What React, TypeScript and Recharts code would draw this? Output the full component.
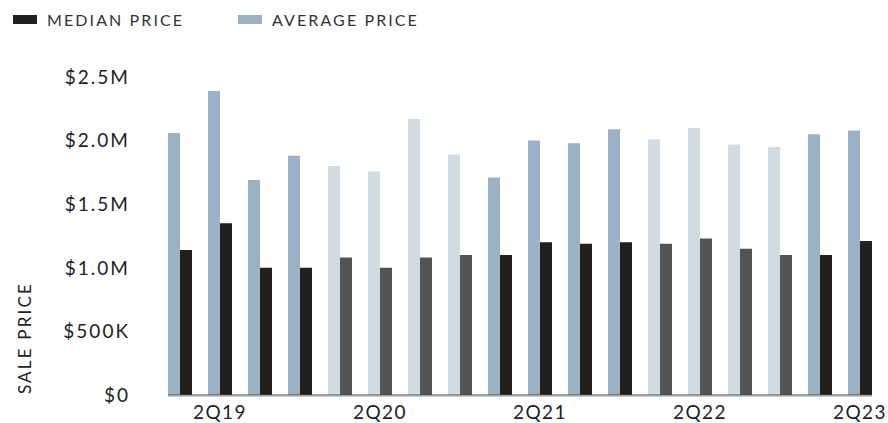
import { BarChart, Bar, XAxis, YAxis, Cell, Label, ReferenceLine } from "recharts";

const quarters = [
  "1Q19", "2Q19", "3Q19", "4Q19",
  "1Q20", "2Q20", "3Q20", "4Q20",
  "1Q21", "2Q21", "3Q21", "4Q21",
  "1Q22", "2Q22", "3Q22", "4Q22",
  "1Q23", "2Q23",
];
const averagePrice = [
  2060000, 2390000, 1690000, 1880000,
  1800000, 1760000, 2170000, 1890000,
  1710000, 2000000, 1980000, 2090000,
  2010000, 2100000, 1970000, 1950000,
  2050000, 2080000,
];
const medianPrice = [
  1140000, 1350000, 1000000, 1000000,
  1080000, 1000000, 1080000, 1100000,
  1100000, 1200000, 1190000, 1200000,
  1190000, 1230000, 1150000, 1100000,
  1100000, 1210000,
];
const labelQuarters = ["2Q19", "2Q20", "2Q21", "2Q22", "2Q23"];
const yTicks = [0, 500000, 1000000, 1500000, 2000000, 2500000];

const AVG_DARK = "#9bb1c4";
const AVG_LIGHT = "#d0dce4";
const MED_DARK = "#231f20";
const MED_GRAY = "#525453";

const data = quarters.map((q, i) => ({
  quarter: q,
  average: averagePrice[i],
  median: medianPrice[i],
}));

// odd years (2019, 2021, 2023) get the darker shades
const isDarkYear = (q: string) => parseInt(q.slice(2), 10) % 2 === 1;

const fmtY = (v: number) => {
  if (v === 0) return "$0";
  if (v < 1000000) return `$${v / 1000}K`;
  return `$${(v / 1000000).toFixed(1)}M`;
};

const font = "Lato, 'Open Sans', sans-serif";

export default function App() {
  return (
    <div style={{ position: "relative", width: 888, height: 423, fontFamily: font }}>
      <style>{`body{margin:0}`}</style>
      <div
        style={{
          position: "absolute",
          top: 10,
          left: 13,
          display: "flex",
          alignItems: "center",
          fontSize: 16,
          letterSpacing: 2.1,
          color: "#333",
        }}
      >
        <span style={{ width: 24, height: 9, background: MED_DARK, display: "inline-block", marginRight: 10 }} />
        <span style={{ marginRight: 56, width: 135, display: "inline-block", whiteSpace: "nowrap" }}>MEDIAN PRICE</span>
        <span style={{ width: 24, height: 9, background: AVG_DARK, display: "inline-block", marginRight: 10 }} />
        <span style={{ whiteSpace: "nowrap" }}>AVERAGE PRICE</span>
      </div>
      <BarChart
        width={888}
        height={423}
        data={data}
        margin={{ top: 77, right: 8, bottom: 0, left: 0 }}
        barGap={0}
        barCategoryGap={16}
      >
        <XAxis
          dataKey="quarter"
          interval={0}
          axisLine={false}
          tickLine={false}
          tickSize={0}
          tickMargin={11}
          height={28}
          tick={{ fill: "#222", fontSize: 19, fontFamily: font, letterSpacing: 1.4 }}
          tickFormatter={(q: string) => (labelQuarters.includes(q) ? q : "")}
        />
        <YAxis
          width={160}
          domain={[0, 2500000]}
          ticks={yTicks}
          tickFormatter={fmtY}
          axisLine={false}
          tickLine={false}
          tickSize={0}
          tickMargin={30}
          tick={{ fill: "#222", fontSize: 19, fontFamily: font, letterSpacing: 2 }}
        >
          <Label
            content={({ viewBox }: any) => {
              const cx = viewBox.x + 24;
              const cy = viewBox.y + viewBox.height - 57;
              return (
                <text
                  x={cx}
                  y={cy}
                  transform={`rotate(-90, ${cx}, ${cy})`}
                  textAnchor="middle"
                  dominantBaseline="central"
                  fill="#222"
                  fontSize={17}
                  letterSpacing={2.2}
                  fontFamily={font}
                >
                  SALE PRICE
                </text>
              );
            }}
          />
        </YAxis>
        <Bar dataKey="average" barSize={12} isAnimationActive={false}>
          {data.map((d) => (
            <Cell key={d.quarter} fill={isDarkYear(d.quarter) ? AVG_DARK : AVG_LIGHT} />
          ))}
        </Bar>
        <Bar dataKey="median" barSize={12} isAnimationActive={false}>
          {data.map((d) => (
            <Cell key={d.quarter} fill={isDarkYear(d.quarter) ? MED_DARK : MED_GRAY} />
          ))}
        </Bar>
        <ReferenceLine
          y={0}
          shape={(p: any) => (
            <g>
              <line x1={p.x1 + 8} x2={p.x2 - 8} y1={p.y1} y2={p.y2} stroke="#444" strokeWidth={1.2} />
              <line x1={p.x1 + 8} x2={p.x2 - 8} y1={p.y1 + 1.5} y2={p.y2 + 1.5} stroke="#ccc" strokeWidth={1} />
            </g>
          )}
        />
      </BarChart>
    </div>
  );
}
